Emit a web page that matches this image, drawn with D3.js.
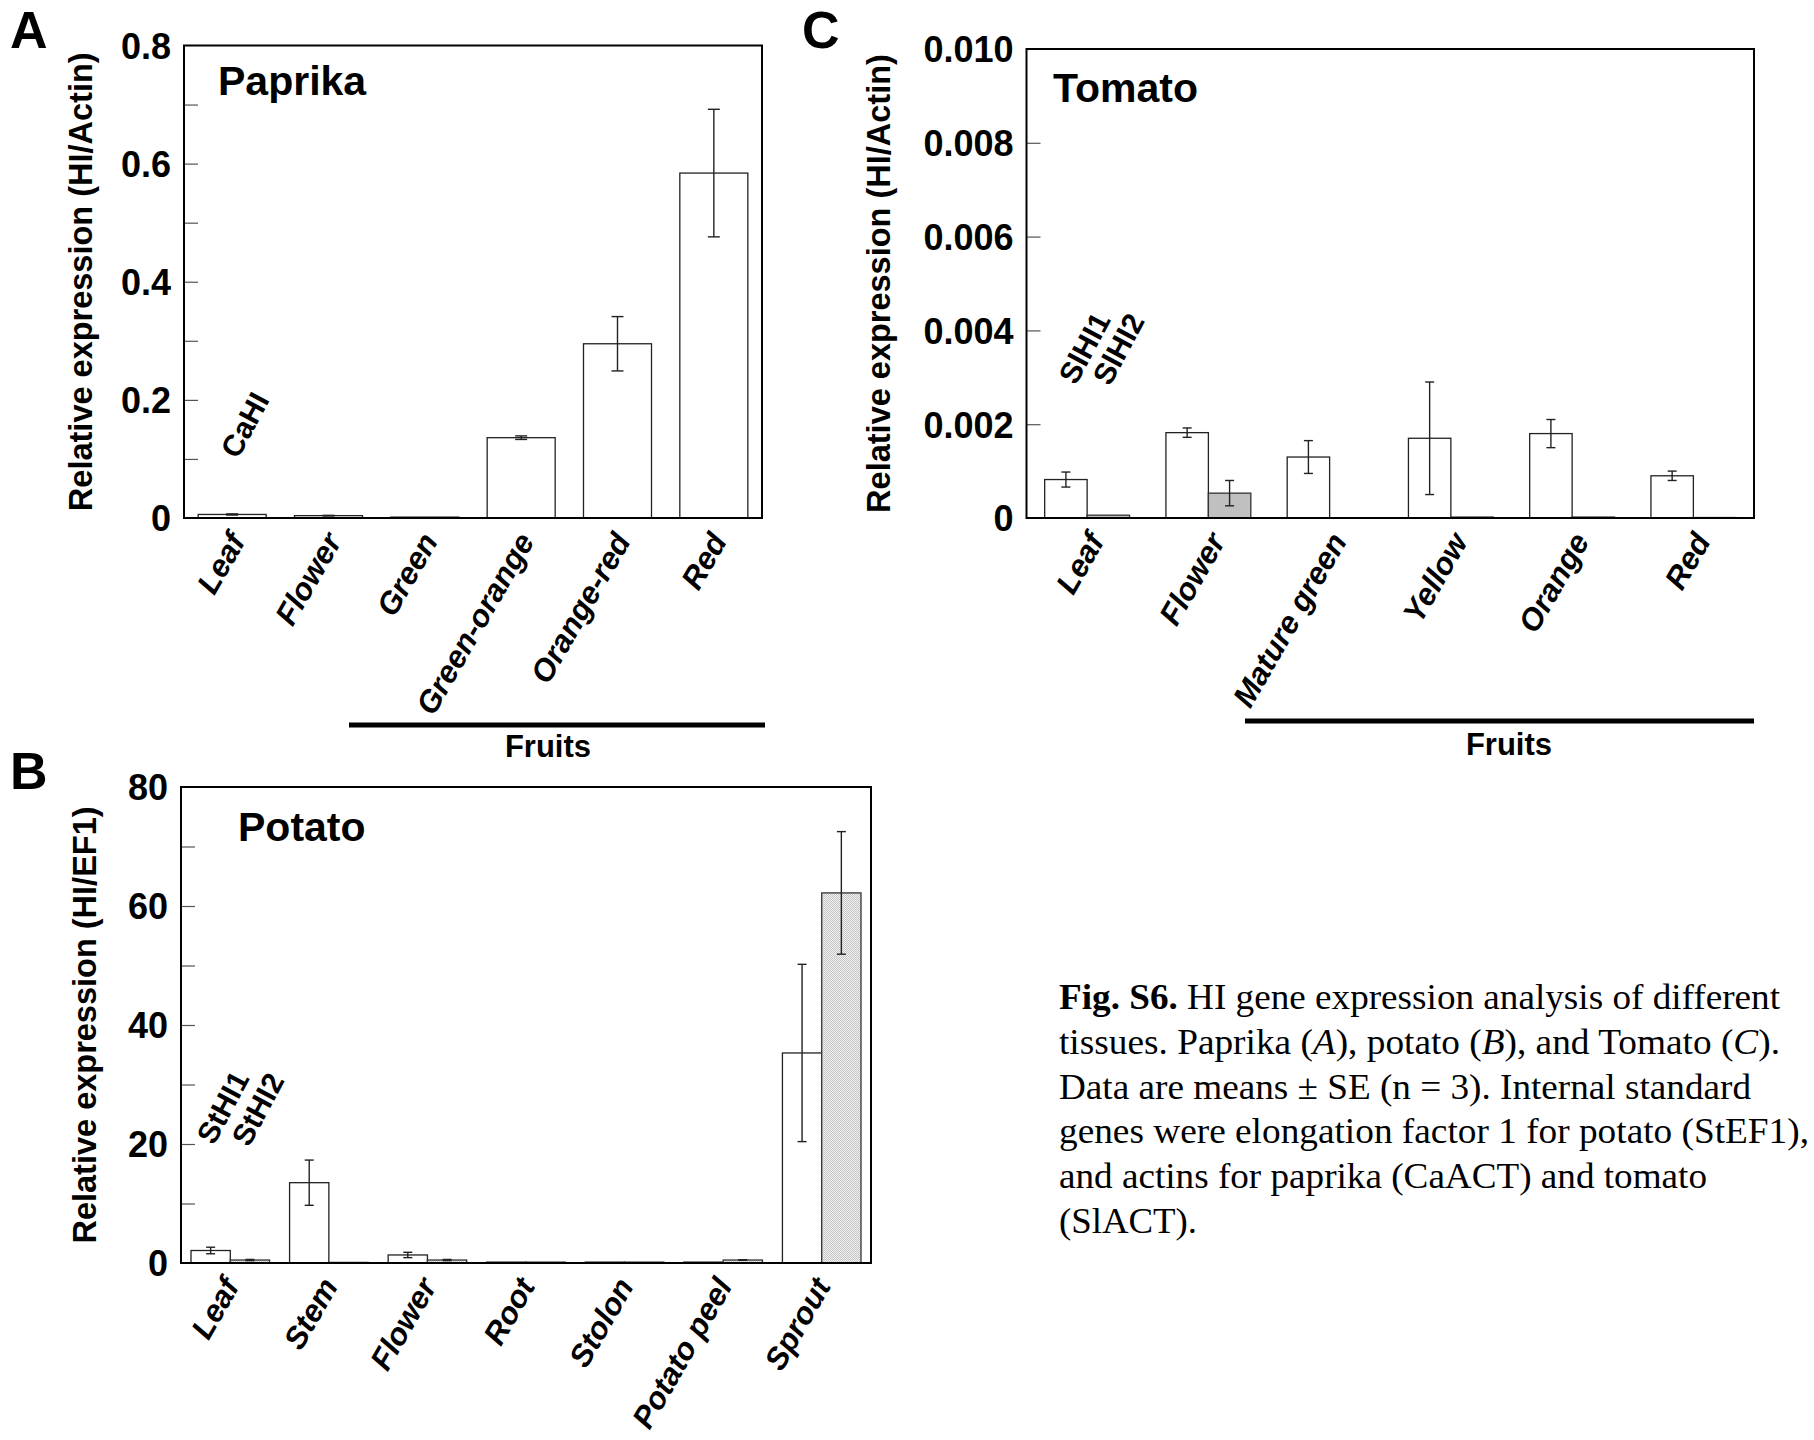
<!DOCTYPE html>
<html>
<head>
<meta charset="utf-8">
<script src="https://cdn.jsdelivr.net/npm/d3@7"></script>
<style>
  html, body { margin: 0; padding: 0; background: #fff; }
  svg { display: block; }
</style>
</head>
<body>
<script>
// ---------------- DATA ----------------
const paprikaCategories = ["Leaf", "Flower", "Green", "Green-orange", "Orange-red", "Red"];
const paprikaCaHI = [0.006, 0.004, 0.0015, 0.136, 0.295, 0.584];
const paprikaCaHIErr = [0.001, 0.0005, 0, 0.003, 0.046, 0.108];
const paprikaTicks = [0, 0.2, 0.4, 0.6, 0.8];
const paprikaMinorTicks = [0.1, 0.2, 0.3, 0.4, 0.5, 0.6, 0.7];

const potatoCategories = ["Leaf", "Stem", "Flower", "Root", "Stolon", "Potato peel", "Sprout"];
const potatoStHI1 = [2.1, 13.5, 1.35, 0.15, 0.15, 0.15, 35.3];
const potatoStHI1Err = [0.55, 3.8, 0.45, 0, 0, 0, 14.9];
const potatoStHI2 = [0.5, 0.1, 0.5, 0.15, 0.15, 0.5, 62.2];
const potatoStHI2Err = [0.1, 0, 0.1, 0, 0, 0.05, 10.3];
const potatoTicks = [0, 20, 40, 60, 80];
const potatoMinorTicks = [10, 20, 30, 40, 50, 60, 70];

const tomatoCategories = ["Leaf", "Flower", "Mature green", "Yellow", "Orange", "Red"];
const tomatoSlHI1 = [0.00082, 0.00182, 0.0013, 0.0017, 0.0018, 0.0009];
const tomatoSlHI1Err = [0.00016, 0.0001, 0.00035, 0.0012, 0.0003, 0.0001];
const tomatoSlHI2 = [0.00006, 0.00053, 0, 0.00002, 0.00002, 0.00001];
const tomatoSlHI2Err = [0, 0.00027, 0, 0, 0, 0];
const tomatoTicks = [0, 0.002, 0.004, 0.006, 0.008, 0.010];
const tomatoMinorTicks = [0.002, 0.004, 0.006, 0.008];

const captionLines = [
  [["Fig. S6.", "b"], [" HI gene expression analysis of different", ""]],
  [["tissues. Paprika (", ""], ["A", "i"], ["), potato (", ""], ["B", "i"], ["), and Tomato (", ""], ["C", "i"], [").", ""]],
  [["Data are means \u00b1 SE (n = 3). Internal standard", ""]],
  [["genes were elongation factor 1 for potato (StEF1),", ""]],
  [["and actins for paprika (CaACT) and tomato", ""]],
  [["(SlACT).", ""]]
];
const captionWidths = [721, 721, 692, 750, 648, 138];

// ---------------- DRAW ----------------
const W = 1814, H = 1440;
const SANS = "'Liberation Sans', Arial, Helvetica, sans-serif";
const SERIF = "'Liberation Serif', 'Times New Roman', Times, serif";

const svg = d3.select("body").append("svg")
  .attr("width", W).attr("height", H)
  .attr("viewBox", `0 0 ${W} ${H}`);

const defs = svg.append("defs");
const pat = defs.append("pattern").attr("id", "stipple")
  .attr("width", 2).attr("height", 2).attr("patternUnits", "userSpaceOnUse");
pat.append("rect").attr("width", 2).attr("height", 2).attr("fill", "#f2f2f2");
pat.append("rect").attr("width", 1).attr("height", 1).attr("fill", "#c4c4c4");
pat.append("rect").attr("x", 1).attr("y", 1).attr("width", 1).attr("height", 1).attr("fill", "#c4c4c4");

function panel(cfg) {
  const g = svg.append("g");
  const x = d3.scaleBand().domain(cfg.categories)
    .range([cfg.left, cfg.right]).paddingInner(cfg.pad).paddingOuter(cfg.pad / 2);
  const y = d3.scaleLinear().domain([0, cfg.ymax]).range([cfg.bottom, cfg.top]);
  const nS = cfg.series.length;
  const x1 = d3.scaleBand().domain(d3.range(nS)).range([0, x.bandwidth()]);

  // inner ticks
  const tickAxis = d3.axisRight(y).tickValues(cfg.minor).tickSize(14).tickFormat("");
  const ta = g.append("g").attr("transform", `translate(${cfg.left},0)`).call(tickAxis);
  ta.select(".domain").remove();
  ta.selectAll(".tick line").attr("stroke", "#555").attr("stroke-width", 1.2);

  // tick labels
  const labAxis = d3.axisLeft(y).tickValues(cfg.ticks).tickSize(0).tickPadding(13).tickFormat(cfg.fmt);
  const la = g.append("g").attr("transform", `translate(${cfg.left},0)`).call(labAxis);
  la.select(".domain").remove();
  la.selectAll(".tick text").attr("font-family", SANS).attr("font-weight", "bold")
    .attr("font-size", 36).attr("fill", "#000").attr("dy", "0.36em");

  // bars
  cfg.series.forEach((s, si) => {
    const rows = cfg.categories.map((c, i) => ({ c, v: s.values[i], e: s.errors[i] }));
    g.append("g").selectAll("rect").data(rows).join("rect")
      .attr("x", d => x(d.c) + x1(si))
      .attr("width", x1.bandwidth())
      .attr("y", d => y(d.v))
      .attr("height", d => y(0) - y(d.v))
      .attr("fill", s.fill)
      .attr("stroke", s.stroke)
      .attr("stroke-width", 1.3);
  });

  // error bars
  cfg.series.forEach((s, si) => {
    const rows = cfg.categories.map((c, i) => ({ c, v: s.values[i], e: s.errors[i] })).filter(d => d.e > 0);
    const eg = g.append("g").attr("stroke", "#222").attr("stroke-width", 1.4);
    const cx = d => x(d.c) + x1(si) + x1.bandwidth() / 2;
    eg.selectAll("line.v").data(rows).join("line").attr("class", "v")
      .attr("x1", cx).attr("x2", cx)
      .attr("y1", d => y(d.v + d.e)).attr("y2", d => y(Math.max(0, d.v - d.e)));
    eg.selectAll("line.t").data(rows).join("line").attr("class", "t")
      .attr("x1", d => cx(d) - cfg.cap / 2).attr("x2", d => cx(d) + cfg.cap / 2)
      .attr("y1", d => y(d.v + d.e)).attr("y2", d => y(d.v + d.e));
    eg.selectAll("line.b").data(rows).join("line").attr("class", "b")
      .attr("x1", d => cx(d) - cfg.cap / 2).attr("x2", d => cx(d) + cfg.cap / 2)
      .attr("y1", d => y(Math.max(0, d.v - d.e))).attr("y2", d => y(Math.max(0, d.v - d.e)));
  });

  // frame
  g.append("rect").attr("x", cfg.left).attr("y", cfg.top)
    .attr("width", cfg.right - cfg.left).attr("height", cfg.bottom - cfg.top)
    .attr("fill", "none").attr("stroke", "#000").attr("stroke-width", 2);

  // category labels
  g.append("g").selectAll("text").data(cfg.categories).join("text")
    .attr("transform", d => `translate(${x(d) + x.bandwidth() / 2 + cfg.labDx},${cfg.bottom + 23}) rotate(-60)`)
    .attr("text-anchor", "end")
    .attr("font-family", SANS).attr("font-weight", "bold").attr("font-style", "italic")
    .attr("font-size", 31).text(d => d);

  // y title
  g.append("text")
    .attr("transform", `translate(${cfg.titleX},${(cfg.top + cfg.bottom) / 2}) rotate(-90)`)
    .attr("text-anchor", "middle")
    .attr("font-family", SANS).attr("font-weight", "bold").attr("font-size", 32.5)
    .text(cfg.yTitle);

  // panel name
  g.append("text").attr("x", cfg.nameX).attr("y", cfg.nameY)
    .attr("font-family", SANS).attr("font-weight", "bold").attr("font-size", 41)
    .text(cfg.name);

  // panel letter
  g.append("text").attr("x", cfg.letterX).attr("y", cfg.letterY)
    .attr("font-family", SANS).attr("font-weight", "bold").attr("font-size", 52)
    .text(cfg.letter);

  // gene labels
  cfg.genes.forEach(gl => {
    g.append("text").attr("transform", `translate(${gl.x},${gl.y}) rotate(-62)`)
      .attr("font-family", SANS).attr("font-weight", "bold").attr("font-size", 30)
      .text(gl.t);
  });

  // fruits bar
  if (cfg.fruits) {
    g.append("line").attr("x1", cfg.fruits.x1).attr("x2", cfg.fruits.x2)
      .attr("y1", cfg.fruits.y).attr("y2", cfg.fruits.y)
      .attr("stroke", "#000").attr("stroke-width", 5);
    g.append("text").attr("x", cfg.fruits.tx).attr("y", cfg.fruits.ty)
      .attr("text-anchor", "middle")
      .attr("font-family", SANS).attr("font-weight", "bold").attr("font-size", 31)
      .text("Fruits");
  }
}

panel({
  categories: paprikaCategories,
  series: [{ values: paprikaCaHI, errors: paprikaCaHIErr, fill: "#fff", stroke: "#222" }],
  left: 184, right: 762, top: 45.5, bottom: 518, pad: 0.294,
  ymax: 0.8, ticks: paprikaTicks, minor: paprikaMinorTicks,
  fmt: d => d === 0 ? "0" : d3.format(".1f")(d),
  cap: 12, labDx: 14,
  yTitle: "Relative expression (HI/Actin)", titleX: 92,
  name: "Paprika", nameX: 218, nameY: 95,
  letter: "A", letterX: 10, letterY: 48,
  genes: [{ t: "CaHI", x: 238, y: 460 }],
  fruits: { x1: 349, x2: 765, y: 725, tx: 548, ty: 757 }
});

panel({
  categories: potatoCategories,
  series: [
    { values: potatoStHI1, errors: potatoStHI1Err, fill: "#fff", stroke: "#222" },
    { values: potatoStHI2, errors: potatoStHI2Err, fill: "url(#stipple)", stroke: "#333" }
  ],
  left: 181, right: 871, top: 787, bottom: 1263, pad: 0.203,
  ymax: 80, ticks: potatoTicks, minor: potatoMinorTicks,
  fmt: d3.format("d"),
  cap: 9, labDx: 10,
  yTitle: "Relative expression (HI/EF1)", titleX: 96,
  name: "Potato", nameX: 238, nameY: 841,
  letter: "B", letterX: 10, letterY: 789,
  genes: [{ t: "StHI1", x: 214, y: 1146 }, { t: "StHI2", x: 249, y: 1148 }],
  fruits: null
});

panel({
  categories: tomatoCategories,
  series: [
    { values: tomatoSlHI1, errors: tomatoSlHI1Err, fill: "#fff", stroke: "#222" },
    { values: tomatoSlHI2, errors: tomatoSlHI2Err, fill: "#c0c0c0", stroke: "#333" }
  ],
  left: 1026.5, right: 1754, top: 49, bottom: 518, pad: 0.30,
  ymax: 0.010, ticks: tomatoTicks, minor: tomatoMinorTicks,
  fmt: d => d === 0 ? "0" : d3.format(".3f")(d),
  cap: 9, labDx: 18,
  yTitle: "Relative expression (HI/Actin)", titleX: 890,
  name: "Tomato", nameX: 1053, nameY: 102,
  letter: "C", letterX: 802, letterY: 48,
  genes: [{ t: "SlHI1", x: 1076, y: 386 }, { t: "SlHI2", x: 1110, y: 387 }],
  fruits: { x1: 1245, x2: 1754, y: 721, tx: 1509, ty: 755 }
});

// caption
const cap = svg.append("g");
captionLines.forEach((line, i) => {
  const t = cap.append("text").attr("x", 1059).attr("y", 1009 + i * 44.8)
    .attr("font-family", SERIF).attr("font-size", 36)
    .attr("textLength", captionWidths[i]).attr("lengthAdjust", "spacingAndGlyphs");
  line.forEach(seg => {
    const [txt, st] = seg;
    const ts = t.append("tspan").text(txt);
    if (st === "b") ts.attr("font-weight", "bold");
    if (st === "i") ts.attr("font-style", "italic");
  });
});
</script>
</body>
</html>
